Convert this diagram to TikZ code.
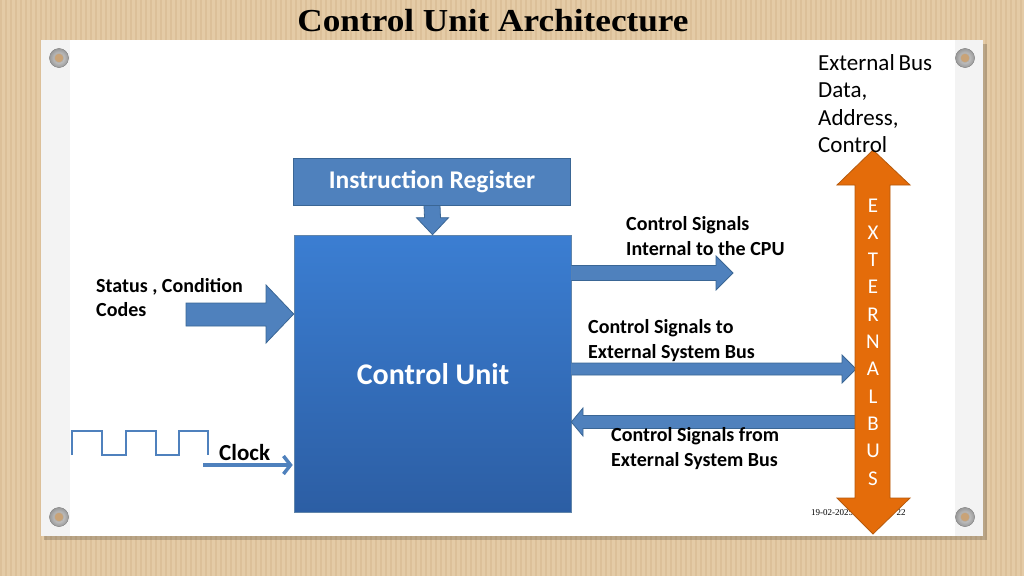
\documentclass[tikz,border=0pt]{standalone}
\usepackage{fontspec}
\setmainfont{Carlito}
\newfontfamily\ttlfont{Liberation Serif}
\usetikzlibrary{arrows.meta,calc}
\definecolor{kraft}{HTML}{E4CBA6}
\definecolor{kraftdark}{HTML}{D6B88F}
\definecolor{panelgrey}{HTML}{F3F3F3}
\definecolor{blockblue}{HTML}{4F81BD}
\definecolor{blockedge}{HTML}{3A6695}
\definecolor{cutop}{HTML}{3B7ED2}
\definecolor{cubot}{HTML}{2C5EA4}
\definecolor{busorange}{HTML}{E46C0A}
\definecolor{busedge}{HTML}{B65A0C}
\definecolor{screwhole}{HTML}{C9A377}
\begin{document}
\begin{tikzpicture}[x=1pt,y=-1pt,
  blockarrow/.style={fill=blockblue,draw=blockedge,line width=0.8pt,line join=miter},
  busarrow/.style={fill=busorange,draw=busedge,line width=0.8pt,line join=miter},
  irbox/.style={fill=blockblue,draw=blockedge,line width=0.8pt,text=white,
     font=\bfseries\fontsize{25.5}{28}\selectfont,inner sep=0pt},
  cubox/.style={top color=cutop,bottom color=cubot,draw=blockedge!80,line width=0.6pt,inner sep=0pt},
  lbl/.style={font=\bfseries\fontsize{20}{24.5}\selectfont,align=left,inner sep=0pt,anchor=west},
  buslbl/.style={font=\fontsize{23}{27.5}\selectfont,align=left,inner sep=0pt,anchor=west},
  busletter/.style={font=\fontsize{21}{22}\selectfont,text=white,inner sep=0pt},
  clockline/.style={draw=blockblue,line width=2pt},
  screw/.style={inner color=gray!25,outer color=gray!80,draw=gray!85,line width=0.4pt}]
\useasboundingbox (0,0) rectangle (1024,576);
% kraft background
\fill[kraft] (0,0) rectangle (1024,576);
\foreach \x in {0,5,...,1020} \fill[kraftdark,opacity=0.55] (\x,0) rectangle (\x+1.8,576);
% title
\node[font=\ttlfont\bfseries\fontsize{32}{34}\selectfont,inner sep=0pt] (title) at (493,21) {\scalebox{1.1}[1]{Control Unit Architecture}};
% panel
\fill[black,opacity=0.18] (44,44) rectangle (987,540);
\fill[panelgrey] (41,40) rectangle (983,536);
\fill[white] (70,40) rectangle (955,536);
% screws
\foreach \sx/\sy [count=\k] in {59/58,965/58,59/517,965/517}{
  \fill[screw] (\sx,\sy) circle (9.5);
  \fill[screwhole,draw=gray!60,line width=0.6pt] (\sx,\sy) circle (4.8);
}
% date and page
\node[font=\ttlfont\fontsize{9}{10}\selectfont,inner sep=0pt] (date) at (832,513) {19-02-2025};
\node[font=\ttlfont\fontsize{9}{10}\selectfont,inner sep=0pt] (page) at (901,513) {22};
% blocks
\node[irbox,minimum width=277pt,minimum height=47pt] (ir) at (432,181.5) {Instruction Register};
\node[cubox,minimum width=277pt,minimum height=277pt] (cu) at (432.5,373.5) {};
\node[text=white,font=\bfseries\fontsize{30}{32}\selectfont,inner sep=0pt] (cutext) at (433,374) {Control Unit};
% IR -> CU arrow
\draw[blockarrow] ($(ir.south)+(-8,0)$) -- ($(ir.south)+(8,0)$) -- ($(cu.north)+(8,-17)$) -- ($(cu.north)+(16,-17)$)
  -- (cu.north) -- ($(cu.north)+(-16,-17)$) -- ($(cu.north)+(-8,-17)$) -- cycle;
% status arrow
\coordinate (st) at (186,314);
\draw[blockarrow] ($(st)+(0,-11)$) -- (266,303) -- (266,285) -- (cu.west |- st) -- (266,343) -- (266,326) -- ($(st)+(0,12)$) -- cycle;
\node[lbl] (stlbl) at (96,297.5) {Status , Condition\\Codes};
% clock waveform
\draw[clockline,line join=miter] (72,455) -- (72,431) -- (102,431) -- (102,455) -- (126,455) -- (126,431)
  -- (156,431) -- (156,455) -- (179,455) -- (179,431) -- (208,431) -- (208,455);
\coordinate (clk) at (203,465);
\draw[draw=blockblue,line width=3.5pt,-{Straight Barb[length=7pt,width=18pt]}] (clk) -- ($(clk -| cu.west)+(-1,0)$);
\node[font=\bfseries\fontsize{23}{24}\selectfont,inner sep=0pt,anchor=west] (clklbl) at (219,453) {Clock};
% internal signals arrow
\coordinate (ia) at (733,273);
\draw[blockarrow] ($(cu.east |- ia)+(0,-7.5)$) -- (716,265.5) -- (716,256) -- (ia) -- (716,290) -- (716,280.5) -- ($(cu.east |- ia)+(0,7.5)$);
\node[lbl] (ialbl) at (626,236) {Control Signals\\Internal to the CPU};
% to external bus arrow
\coordinate (ea) at (856,369);
\draw[blockarrow] ($(cu.east |- ea)+(0,-6)$) -- (842,363) -- (842,355) -- (ea) -- (842,383) -- (842,375) -- ($(cu.east |- ea)+(0,6)$);
\node[lbl] (ealbl) at (588,340.5) {Control Signals to\\External System Bus};
% from external bus arrow
\coordinate (fa) at (856,422);
\draw[blockarrow] ($(fa)+(0,-6.5)$) -- (583,415.5) -- (583,408) -- (cu.east |- fa) -- (583,436) -- (583,428.5) -- ($(fa)+(0,6.5)$) -- cycle;
\node[lbl] (falbl) at (611,448.5) {Control Signals from\\External System Bus};
% external bus double arrow
\draw[busarrow] (873,150) -- (910,185) -- (890,185) -- (890,498) -- (910,498) -- (873,534) -- (837,498)
  -- (855,498) -- (855,185) -- (837,185) -- cycle;
\foreach \l [count=\i] in {E,X,T,E,R,N,A,L,B,U,S}
  \node[busletter] (b\i) at (873,178+27.3*\i) {\l};
\node[buslbl] (extlbl) at (818,103.5) {External\,Bus\\Data,\\Address,\\Control};
\end{tikzpicture}
\end{document}
